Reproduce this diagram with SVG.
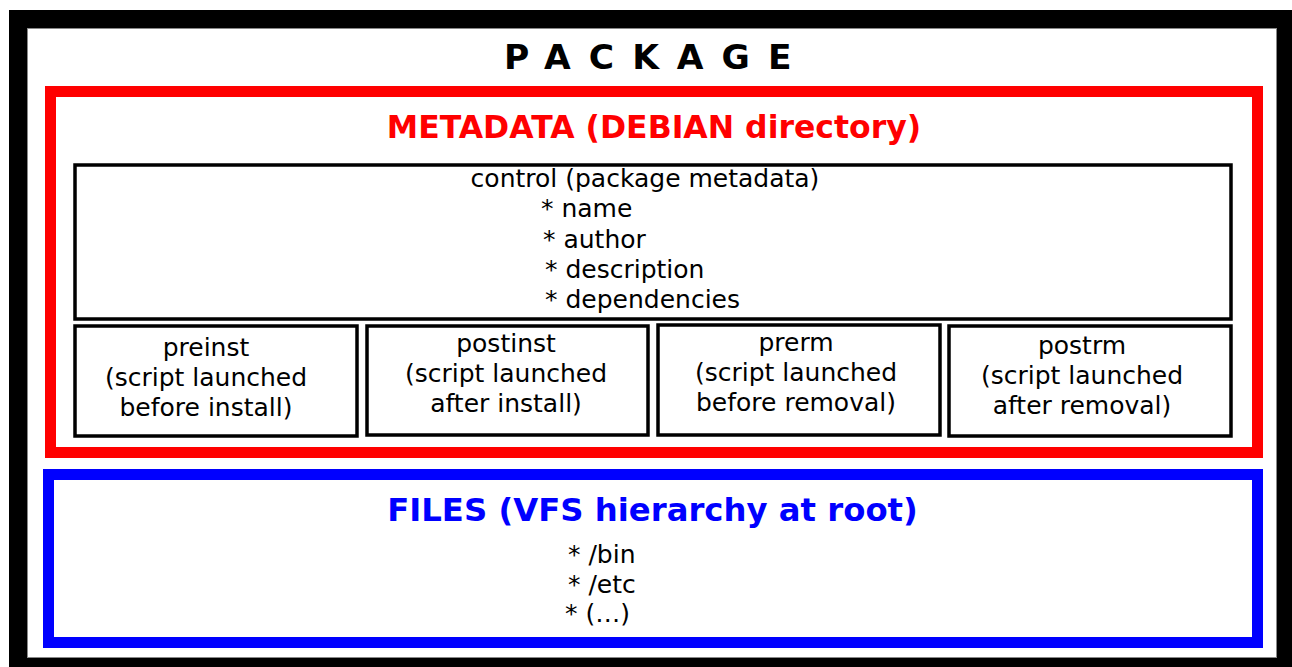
<svg xmlns="http://www.w3.org/2000/svg" width="1292" height="667" viewBox="0 0 1292 667">
<style>
.t{font-family:"DejaVu Sans","Liberation Sans",sans-serif;font-size:25px;fill:#000}
.box{fill:#fff;stroke:#000;stroke-width:3.5}
.h{font-family:"DejaVu Sans","Liberation Sans",sans-serif;font-weight:bold;font-size:31.5px;text-anchor:middle}
</style>
<rect x="0" y="0" width="1292" height="667" fill="#fff"/>
<rect x="9" y="10" width="1290" height="665" fill="#000"/>
<rect x="27.5" y="28.5" width="1249" height="629" fill="#fff" stroke="#888" stroke-width="1"/>
<g id="package">
<text x="504" y="69" font-family="DejaVu Sans, sans-serif" font-weight="bold" font-size="34.5" letter-spacing="18">PACKAGE</text>
</g>
<g id="metadata">
<rect x="50.5" y="91.5" width="1207" height="361" fill="none" stroke="#f00" stroke-width="11"/>
<text class="h" x="654" y="138" fill="#f00">METADATA (DEBIAN directory)</text>
</g>
<g id="control">
<rect class="box" x="75" y="165" width="1156" height="154"/>
<text class="t" x="645" y="187" text-anchor="middle">control (package metadata)</text>
<text class="t" x="541" y="217">* name</text>
<text class="t" x="543" y="248">* author</text>
<text class="t" x="545" y="278">* description</text>
<text class="t" x="545" y="308">* dependencies</text>
</g>
<g id="preinst">
<rect class="box" x="75" y="326" width="282" height="110"/>
<text class="t" x="206" y="356" text-anchor="middle">preinst</text>
<text class="t" x="206" y="386" text-anchor="middle">(script launched</text>
<text class="t" x="206" y="416" text-anchor="middle">before install)</text>
</g>
<g id="postinst">
<rect class="box" x="367" y="326" width="281" height="109"/>
<text class="t" x="506" y="352" text-anchor="middle">postinst</text>
<text class="t" x="506" y="382" text-anchor="middle">(script launched</text>
<text class="t" x="506" y="412" text-anchor="middle">after install)</text>
</g>
<g id="prerm">
<rect class="box" x="658" y="325" width="282" height="110"/>
<text class="t" x="796" y="351" text-anchor="middle">prerm</text>
<text class="t" x="796" y="381" text-anchor="middle">(script launched</text>
<text class="t" x="796" y="411" text-anchor="middle">before removal)</text>
</g>
<g id="postrm">
<rect class="box" x="949" y="326" width="282" height="110"/>
<text class="t" x="1082" y="354" text-anchor="middle">postrm</text>
<text class="t" x="1082" y="384" text-anchor="middle">(script launched</text>
<text class="t" x="1082" y="414" text-anchor="middle">after removal)</text>
</g>
<g id="files">
<rect x="48.5" y="474.5" width="1209" height="168" fill="none" stroke="#00f" stroke-width="11"/>
<text class="h" x="652.5" y="521" fill="#00f" style="font-size:32.3px">FILES (VFS hierarchy at root)</text>
<text class="t" x="568" y="563">* /bin</text>
<text class="t" x="568" y="593">* /etc</text>
<text class="t" x="565" y="622">* (…)</text>
</g>
<g id="connectors"></g>
</svg>
